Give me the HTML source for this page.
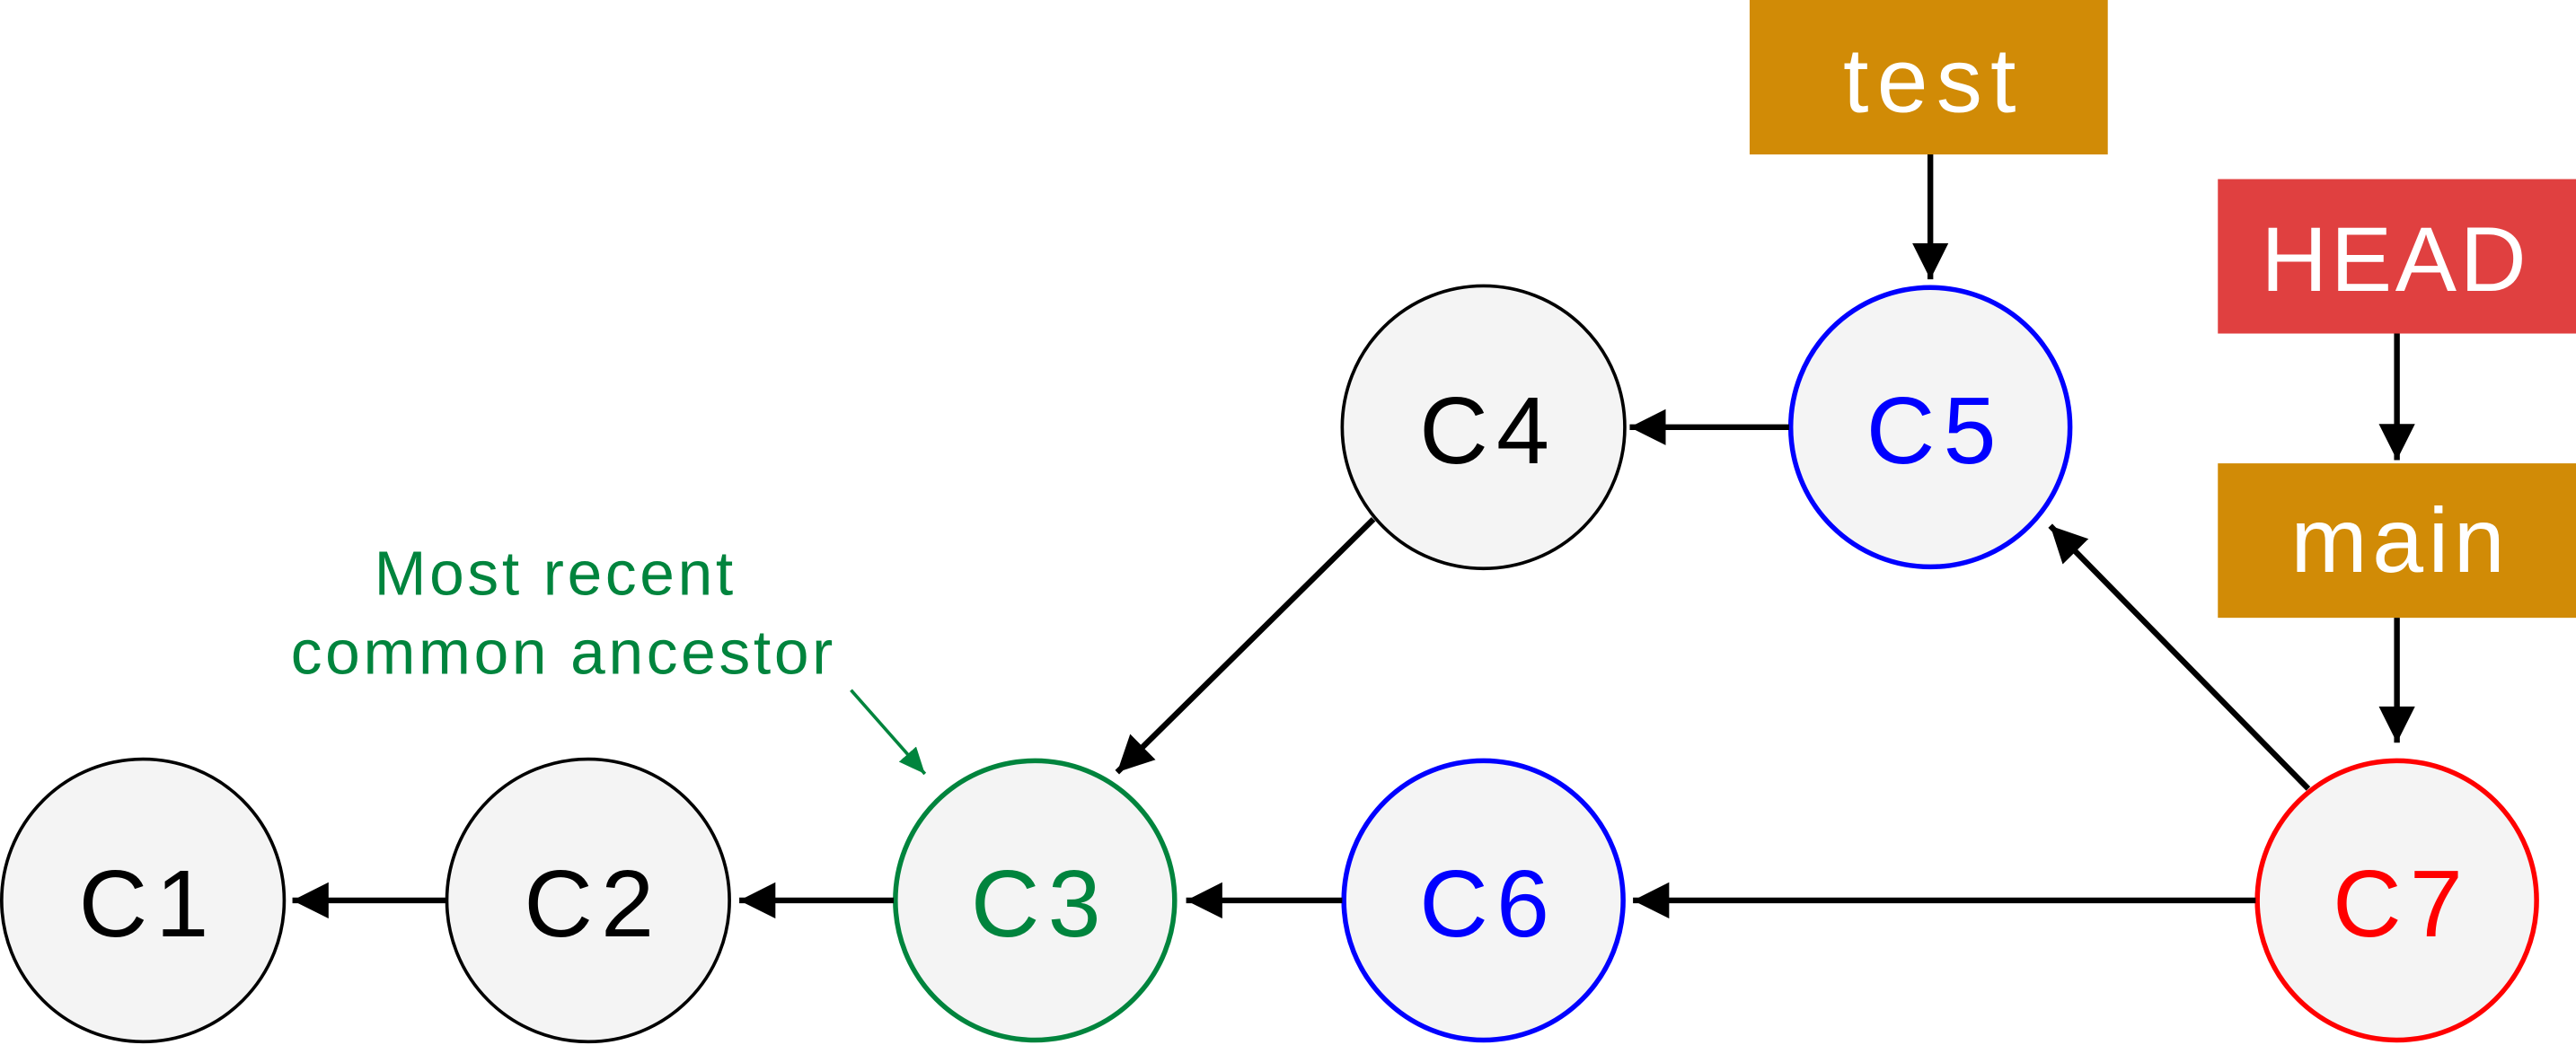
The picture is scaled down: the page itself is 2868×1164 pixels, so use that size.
<!DOCTYPE html>
<html><head><meta charset="utf-8"><style>html,body{margin:0;padding:0;background:#fff}svg{display:block}</style></head><body>
<svg width="2868" height="1164" viewBox="0 0 1568 636" preserveAspectRatio="none" xmlns="http://www.w3.org/2000/svg" font-family="Liberation Sans, sans-serif">
<defs>
<marker id="a" markerWidth="24" markerHeight="24" refX="22" refY="11" orient="auto" markerUnits="userSpaceOnUse"><path d="M0,0 L22,11 L0,22 Z" fill="#000"/></marker>
<marker id="g" markerWidth="20" markerHeight="20" refX="16" refY="7" orient="auto" markerUnits="userSpaceOnUse"><path d="M0,0 L16,7 L0,14 Z" fill="#00843d"/></marker>
</defs>
<g fill="#f4f4f4">
<circle cx="87" cy="548" r="86" stroke="#000" stroke-width="2"/>
<circle cx="358" cy="548" r="86" stroke="#000" stroke-width="2"/>
<circle cx="630" cy="548" r="85" stroke="#00843d" stroke-width="3"/>
<circle cx="903" cy="548" r="85" stroke="#0000ff" stroke-width="3"/>
<circle cx="1459" cy="548" r="85" stroke="#ff0000" stroke-width="3"/>
<circle cx="903" cy="260" r="86" stroke="#000" stroke-width="2"/>
<circle cx="1175" cy="260" r="85" stroke="#0000ff" stroke-width="3"/>
</g>
<g font-size="58" text-anchor="middle" letter-spacing="5">
<text x="90" y="570">C1</text>
<text x="361" y="570">C2</text>
<text x="633" y="570" fill="#00843d">C3</text>
<text x="906" y="570" fill="#0000ff">C6</text>
<text x="1462" y="570" fill="#ff0000">C7</text>
<text x="906" y="282">C4</text>
<text x="1178" y="282" fill="#0000ff">C5</text>
</g>
<rect x="1065" y="0" width="218" height="94" fill="#d18b06"/>
<rect x="1350" y="109" width="218" height="94" fill="#e04040"/>
<rect x="1350" y="282" width="218" height="94" fill="#d18b06"/>
<g font-size="56" fill="#fff" text-anchor="middle">
<text x="1177" y="68" letter-spacing="5">test</text>
<text x="1458" y="177" letter-spacing="2">HEAD</text>
<text x="1461" y="348" letter-spacing="3">main</text>
</g>
<g stroke="#000" stroke-width="3.5" fill="none" marker-end="url(#a)">
<line x1="272" y1="548" x2="178" y2="548"/>
<line x1="544" y1="548" x2="450" y2="548"/>
<line x1="817" y1="548" x2="722" y2="548"/>
<line x1="1373" y1="548" x2="994" y2="548"/>
<line x1="1089" y1="260" x2="992" y2="260"/>
<line x1="836" y1="316" x2="680" y2="470"/>
<line x1="1405" y1="480" x2="1248" y2="320"/>
<line x1="1175" y1="94" x2="1175" y2="170"/>
<line x1="1459" y1="203" x2="1459" y2="280"/>
<line x1="1459" y1="376" x2="1459" y2="452"/>
</g>
<line x1="518" y1="420" x2="563" y2="471" stroke="#00843d" stroke-width="2" marker-end="url(#g)"/>
<g font-size="38" fill="#00843d" text-anchor="middle" letter-spacing="2">
<text x="338" y="362">Most recent</text>
<text x="343" y="410">common ancestor</text>
</g>
</svg>
</body></html>
